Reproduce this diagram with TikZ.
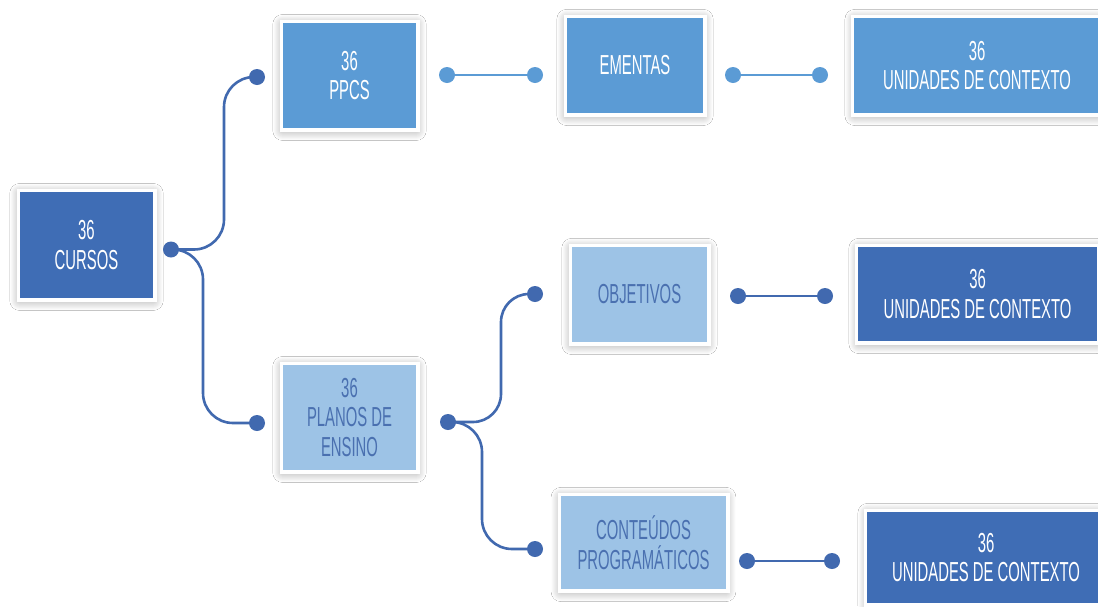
\documentclass[tikz,border=0pt]{standalone}
\usepackage{fontspec}
\setmainfont[FakeStretch=0.54]{Liberation Sans}
\usetikzlibrary{shadows.blur}
\definecolor{dk}{HTML}{3F6DB5}
\definecolor{md}{HTML}{5B9BD5}
\definecolor{lt}{HTML}{9DC3E6}
\definecolor{lttext}{HTML}{4A70B0}
\definecolor{cdk}{HTML}{4169AF}
\definecolor{cmd}{HTML}{5B9BD5}
\tikzset{
  box/.style={draw=white, line width=3.5pt, align=center, inner sep=0pt,
    font=\fontsize{27.5}{29.5}\selectfont,
    blur shadow={shadow xshift=0pt, shadow yshift=-2pt, shadow scale=0.98, shadow blur radius=10pt, shadow blur steps=20, shadow opacity=40}},
  darkbox/.style={box, fill=dk, text=white},
  midbox/.style={box, fill=md, text=white},
  lightbox/.style={box, fill=lt, text=lttext},
  dot/.style={circle, inner sep=0pt, minimum size=16pt, fill=#1},
  conn/.style={draw=#1, line width=2.6pt},
}
\begin{document}
\begin{tikzpicture}[x=1pt, y=-1pt]
\clip (0,0) rectangle (1098,606);
\fill[white] (0,0) rectangle (1098,606);

% boxes
\node[darkbox, minimum width=136.5pt, minimum height=109.5pt] (cursos) at (86.5,245) {36\\CURSOS};
\node[midbox, minimum width=136.5pt, minimum height=108.5pt] (ppcs) at (349.5,75.5) {36\\PPCS};
\node[midbox, minimum width=139.5pt, minimum height=98.5pt] (ementas) at (635,65.5) {EMENTAS};
\node[midbox, minimum width=249.5pt, minimum height=98.5pt] (uni1) at (977,65.5) {36\\UNIDADES DE CONTEXTO};
\node[lightbox, minimum width=136.5pt, minimum height=108.5pt] (planos) at (349.5,417.5) {36\\PLANOS DE\\ENSINO};
\node[lightbox, minimum width=138.5pt, minimum height=98.5pt] (obj) at (639.5,294.5) {OBJETIVOS};
\node[darkbox, minimum width=242.5pt, minimum height=97.5pt] (uni2) at (977.5,294) {36\\UNIDADES DE CONTEXTO};
\node[lightbox, minimum width=168.5pt, minimum height=96.5pt] (cont) at (643.5,542.5) {CONTEÚDOS\\PROGRAMÁTICOS};
\node[darkbox, minimum width=241.5pt, minimum height=94.5pt] (uni3) at (986,557.5) {36\\UNIDADES DE CONTEXTO};

% dots
\node[dot=cdk] (dcR) at (171,249.5) {};
\node[dot=cdk] (dpL) at (257,77) {};
\node[dot=cmd] (dpR) at (447,75) {};
\node[dot=cmd] (deL) at (535,75) {};
\node[dot=cmd] (deR) at (733,75) {};
\node[dot=cmd] (du1L) at (820,75) {};
\node[dot=cdk] (dplL) at (257,423) {};
\node[dot=cdk] (dplR) at (448,422) {};
\node[dot=cdk] (doL) at (535,294) {};
\node[dot=cdk] (doR) at (738,296) {};
\node[dot=cdk] (du2L) at (825,296) {};
\node[dot=cdk] (dcoL) at (535,549) {};
\node[dot=cdk] (dcoR) at (747,561) {};
\node[dot=cdk] (du3L) at (832,561) {};

% connectors
\draw[conn=cdk, rounded corners=30pt] (dcR.center) -- ++(53,0) |- (dpL.center);
\draw[conn=cdk, rounded corners=30pt] (dcR.center) -- ++(32,0) |- (dplL.center);
\draw[conn=cdk, rounded corners=28pt] (dplR.center) -- ++(53,0) |- (doL.center);
\draw[conn=cdk, rounded corners=30pt] (dplR.center) -- ++(34,0) |- (dcoL.center);
\draw[conn=cmd] (dpR) -- (deL);
\draw[conn=cmd] (deR) -- (du1L);
\draw[conn=cdk] (doR) -- (du2L);
\draw[conn=cdk] (dcoR) -- (du3L);
\end{tikzpicture}
\end{document}
